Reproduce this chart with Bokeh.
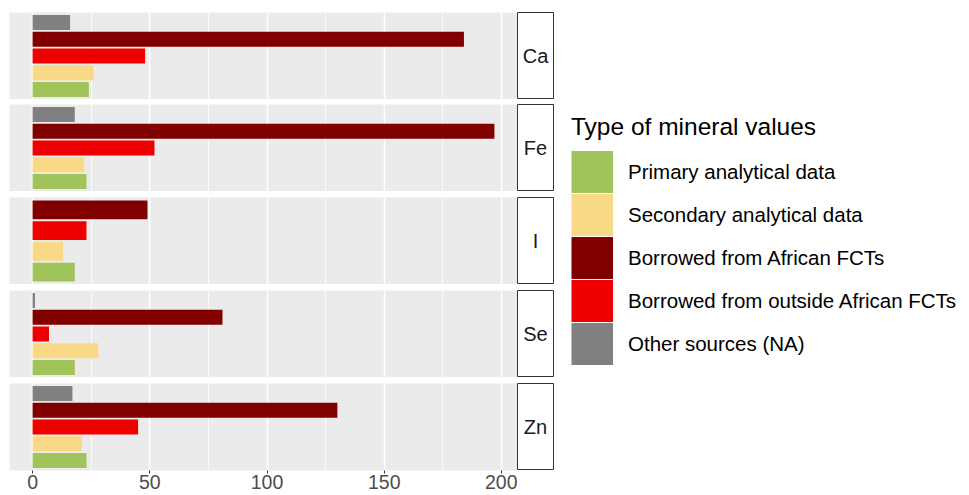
from bokeh.plotting import figure
from bokeh.models import (Range1d, FactorRange, FixedTicker, LinearAxis, Grid,
                          Legend, LegendItem, ColumnDataSource)
from bokeh.layouts import row, column
from bokeh.embed import file_html
from bokeh.resources import INLINE
from bokeh.core.properties import value

# ---------------- data ----------------
minerals = ["Ca", "Fe", "I", "Se", "Zn"]
source_types = ["Primary analytical data", "Secondary analytical data",
                "Borrowed from African FCTs", "Borrowed from outside African FCTs",
                "Other sources (NA)"]
# order of bars inside each panel, bottom to top
panel_order = ["Primary analytical data", "Secondary analytical data",
               "Borrowed from outside African FCTs", "Borrowed from African FCTs",
               "Other sources (NA)"]
colors = ["#A1C45A", "#F9D886", "#800000", "#EE0000", "#808080"]

primary = [24, 23, 18, 18, 23]
secondary = [26, 22, 13, 28, 21]
african = [184, 197, 49, 81, 130]
outside = [48, 52, 23, 7, 45]
other_na = [16, 18, None, 1, 17]

major_ticks = [0, 50, 100, 150, 200]
minor_ticks = [25, 75, 125, 175]
legend_title = "Type of mineral values"

# ---------------- styling ----------------
FONT = "Liberation Sans"
PANEL_BG = "#EBEBEB"
series = dict(zip(source_types, [primary, secondary, african, outside, other_na]))
color_map = dict(zip(source_types, colors))

all_vals = [v for s in series.values() for v in s if v is not None]
xmax = max(all_vals)
pad = 0.05 * xmax
x_range = Range1d(-pad, xmax + pad)

FRAME_W = 508
FRAME_H = 87
tops = [12, 5, 6, 6, 6]

rows = []
for i, m in enumerate(minerals):
    cats = [c for c in panel_order if series[c][i] is not None]
    n = len(cats)
    src = ColumnDataSource(dict(cat=cats, val=[series[c][i] for c in cats],
                                color=[color_map[c] for c in cats]))
    last = (i == len(minerals) - 1)
    p = figure(frame_width=FRAME_W, frame_height=FRAME_H, x_range=x_range,
               y_range=FactorRange(factors=cats, range_padding=0.2 / n,
                                   range_padding_units="percent"),
               x_axis_type=None, y_axis_type=None,
               output_backend="svg", toolbar_location=None, tools="",
               min_border_left=9, min_border_right=0,
               min_border_top=tops[i], min_border_bottom=0)
    p.background_fill_color = PANEL_BG
    p.border_fill_color = "white"
    p.outline_line_color = None
    grid = Grid(dimension=0, ticker=FixedTicker(ticks=major_ticks, minor_ticks=minor_ticks),
                grid_line_color="white", grid_line_width=1.5,
                minor_grid_line_color="white", minor_grid_line_width=0.8)
    p.add_layout(grid)
    p.hbar(y="cat", right="val", left=0, height=0.9, source=src,
           fill_color="color", line_color=None)
    if last:
        ax = LinearAxis(ticker=FixedTicker(ticks=major_ticks))
        ax.axis_line_color = None
        ax.major_tick_in = 0
        ax.major_tick_out = 3
        ax.major_tick_line_color = "#333333"
        ax.minor_tick_line_color = None
        ax.major_label_text_font = FONT
        ax.major_label_text_font_size = "19.5px"
        ax.major_label_text_color = "#4D4D4D"
        ax.major_label_standoff = 1
        p.add_layout(ax, "below")

    s = figure(frame_width=36, frame_height=FRAME_H,
               x_range=Range1d(0, 1), y_range=Range1d(0, 1),
               x_axis_type=None, y_axis_type=None,
               output_backend="svg", toolbar_location=None, tools="",
               min_border_left=0, min_border_right=1,
               min_border_top=tops[i], min_border_bottom=0)
    s.background_fill_color = "white"
    s.border_fill_color = "white"
    s.outline_line_color = "#333333"
    s.outline_line_width = 1
    s.text(x=[0.5], y=[0.5], text=[m], text_align="center", text_baseline="middle",
           text_font=value(FONT), text_font_size="20px", text_color="#1A1A1A")
    rows.append(row(p, s))

panels = column(*rows)

# ---------------- legend ----------------
LEG_H = 495
lp = figure(width=415, height=LEG_H, x_range=Range1d(0, 1),
            y_range=FactorRange(factors=source_types),
            x_axis_type=None, y_axis_type=None, output_backend="svg",
            toolbar_location=None, tools="", min_border=0)
lp.outline_line_color = None
lp.background_fill_color = "white"
lp.border_fill_color = "white"
lsrc = ColumnDataSource(dict(cat=source_types, color=colors))
# zero-length segments: they only carry the legend key colours
# (a thick butt-capped line gives a full square key)
lr = lp.segment(x0=0, x1=0, y0="cat", y1="cat", source=lsrc,
                line_color="color", line_width=42, line_cap="butt")
items = [LegendItem(label=value(t), renderers=[lr], index=k)
         for k, t in enumerate(source_types)]
legend = Legend(items=items, location=(17, 130), title=legend_title,
                title_text_font=FONT, title_text_font_size="24.5px",
                title_text_font_style="normal", title_text_color="black",
                label_text_font=FONT, label_text_font_size="20.5px",
                label_text_color="black",
                glyph_width=42, glyph_height=43, label_height=43,
                label_standoff=15, spacing=0, padding=0, margin=0,
                title_standoff=9, border_line_color=None,
                background_fill_alpha=0)
lp.add_layout(legend)

layout = row(panels, lp)

open("out.html", "w").write(file_html(layout, INLINE))
